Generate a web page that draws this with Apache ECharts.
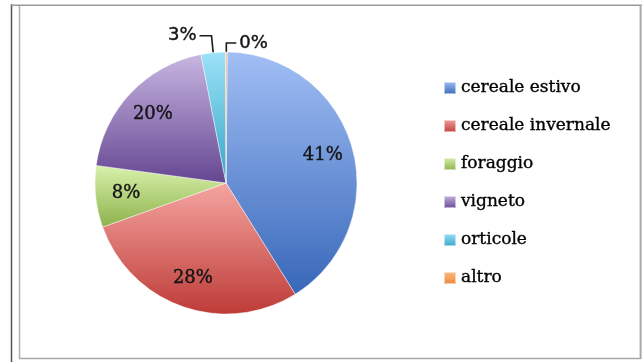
<!DOCTYPE html>
<html>
<head>
<meta charset="utf-8">
<script src="https://cdn.jsdelivr.net/npm/echarts@6/dist/echarts.min.js"></script>
<style>
  html, body { margin: 0; padding: 0; background: #ffffff; }
  #chart { width: 642px; height: 362px; }
</style>
</head>
<body>
<div id="chart"></div>
<script>
// Land use shares (%)
const categories = ['cereale estivo', 'cereale invernale', 'foraggio', 'vigneto', 'orticole', 'altro'];
const shares = [41.0, 28.4, 7.6, 19.8, 3.0, 0.2];

// Slice palette: light tone at the top of each slice, dark tone at the bottom
const lightTones = ['#a2bff5', '#f5a5a1', '#d9f2ac', '#c7b6e1', '#9de2f8', '#fdbd86'];
const darkTones  = ['#3767b9', '#bd3b37', '#8cb14a', '#654692', '#35a5c6', '#ee8533'];

// Small slices get their labels outside, with leader lines
const outsideLabel = {
  4: { length: 17, length2: 12 },
  5: { length: 9, length2: 10 }
};

const CENTER = [226, 183];
const RADIUS = 131;
const START = 89.5;
const INK = '#141414';

function fillFor(i) {
  return new echarts.graphic.LinearGradient(0, 0, 0, 1, [
    { offset: 0, color: lightTones[i] },
    { offset: 1, color: darkTones[i] }
  ]);
}

const pieData = categories.map((name, i) => {
  const item = { name: name, value: shares[i], itemStyle: { color: fillFor(i) } };
  if (outsideLabel[i]) {
    item.label = { show: true };
    item.labelLine = { show: true, length: outsideLabel[i].length, length2: outsideLabel[i].length2 };
  }
  return item;
});

// Transparent ring that only carries the inside percentage labels
const labelData = categories.map((name, i) => ({
  name: name,
  value: shares[i],
  label: { show: !outsideLabel[i] }
}));

const chart = echarts.init(document.getElementById('chart'), null, { renderer: 'canvas' });

chart.setOption({
  backgroundColor: '#ffffff',
  animation: false,
  legend: {
    orient: 'vertical',
    left: 443,
    top: 79,
    padding: 0,
    itemWidth: 12,
    itemHeight: 12,
    itemGap: 20,
    icon: 'rect',
    data: categories,
    textStyle: {
      fontFamily: 'DejaVu Serif',
      fontSize: 17,
      lineHeight: 18,
      color: '#000000',
      textBorderColor: '#000000',
      textBorderWidth: 0.35
    }
  },
  series: [
    {
      type: 'pie',
      center: CENTER,
      radius: [0, RADIUS],
      startAngle: START,
      clockwise: true,
      avoidLabelOverlap: false,
      percentPrecision: 0,
      itemStyle: { borderColor: 'rgba(255,255,255,0.55)', borderWidth: 0.8 },
      label: {
        show: false,
        position: 'outside',
        formatter: '{d}%',
        fontFamily: 'DejaVu Sans',
        fontSize: 18,
        color: INK,
        textBorderColor: INK,
        textBorderWidth: 0.4,
        distanceToLabelLine: 3,
        padding: [0, 0, 6, 0]
      },
      labelLine: {
        show: false,
        smooth: false,
        lineStyle: { color: '#1a1a1a', width: 1.6 }
      },
      emphasis: { disabled: true },
      data: pieData
    },
    {
      type: 'pie',
      center: CENTER,
      radius: [64, RADIUS],
      startAngle: START,
      clockwise: true,
      silent: true,
      avoidLabelOverlap: false,
      percentPrecision: 0,
      legendHoverLink: false,
      itemStyle: { color: 'rgba(0,0,0,0)' },
      label: {
        position: 'inside',
        formatter: '{d}%',
        fontFamily: 'DejaVu Serif',
        fontSize: 18,
        color: INK,
        textBorderColor: INK,
        textBorderWidth: 0.4
      },
      labelLine: { show: false },
      emphasis: { disabled: true },
      data: labelData
    }
  ],
  graphic: [
    { type: 'line', silent: true, shape: { x1: 11.5, y1: 4, x2: 11.5, y2: 362 }, style: { stroke: '#555555', lineWidth: 1.5 } },
    { type: 'line', silent: true, shape: { x1: 11, y1: 5.3, x2: 642, y2: 5.3 }, style: { stroke: '#9a9a9a', lineWidth: 1.6 } },
    { type: 'line', silent: true, shape: { x1: 19.5, y1: 6, x2: 19.5, y2: 358.5 }, style: { stroke: '#b0b0b0', lineWidth: 1.5 } },
    { type: 'line', silent: true, shape: { x1: 19, y1: 358.5, x2: 641, y2: 358.5 }, style: { stroke: '#a8a8a8', lineWidth: 1.6 } },
    { type: 'line', silent: true, shape: { x1: 640.6, y1: 5, x2: 640.6, y2: 359 }, style: { stroke: '#a8a8a8', lineWidth: 2 } }
  ]
});
</script>
</body>
</html>
